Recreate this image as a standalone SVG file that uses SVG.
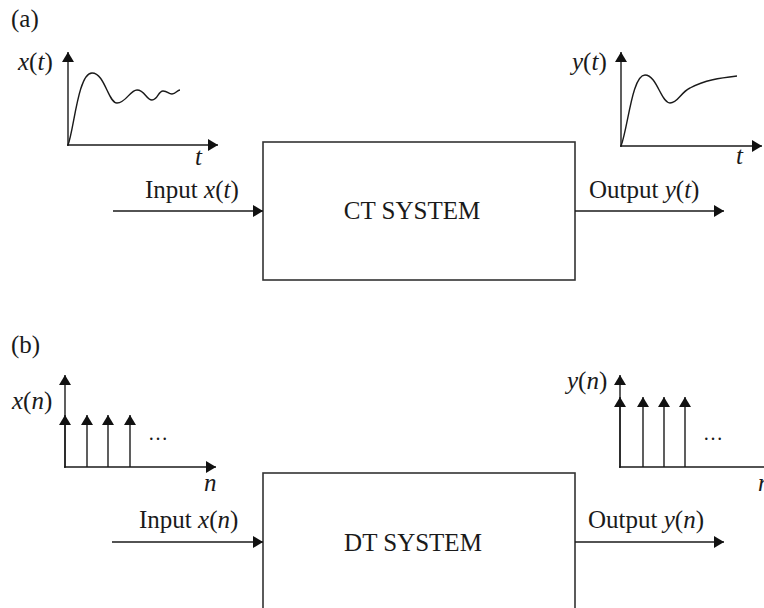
<svg xmlns="http://www.w3.org/2000/svg" width="764" height="608" viewBox="0 0 764 608">
<style>
text{font-family:"Liberation Serif","Times New Roman",serif;font-size:25px;fill:#1a1a1a}
.i{font-style:italic}
.ln{stroke:#1a1a1a;stroke-width:1.4;fill:none}
.box{stroke:#333;stroke-width:1.6;fill:#fff}
</style>
<defs>
<marker id="ah" viewBox="0 0 10 12" refX="10" refY="6" markerUnits="userSpaceOnUse" markerWidth="10" markerHeight="12" orient="auto">
<path d="M0,0 L10,6 L0,12 z" fill="#111"/>
</marker>
</defs>
<rect width="764" height="608" fill="#fff"/>

<text x="11" y="27">(a)</text>
<text x="11" y="353">(b)</text>

<g id="xt-plot">
<line class="ln" x1="68" y1="146" x2="68" y2="52" marker-end="url(#ah)"/>
<line class="ln" x1="67" y1="145" x2="218" y2="145" marker-end="url(#ah)"/>
<path class="ln" d="M68,145 C74,130 78,73 92,73 C105,73 108,103 117,103 C126,103 130,90 137,90 C145,90 146,100 152,100 C158,100 158,91 163,91 C168,91 168,94 172,94 C176,94 177,90 180,90"/>
<text x="18" y="70"><tspan class="i">x</tspan>(<tspan class="i">t</tspan>)</text>
<text x="195" y="165" class="i">t</text>
</g>

<g id="yt-plot">
<line class="ln" x1="621" y1="147" x2="621" y2="52" marker-end="url(#ah)"/>
<line class="ln" x1="620" y1="146" x2="762" y2="146" marker-end="url(#ah)"/>
<path class="ln" d="M621,146 C628,128 632,75 645,75 C657,75 661,103 670,103 C678,103 680,93 690,88 C705,80 720,78 737,76"/>
<text x="572" y="70"><tspan class="i">y</tspan>(<tspan class="i">t</tspan>)</text>
<text x="736" y="164" class="i">t</text>
</g>

<g id="ct-system">
<rect class="box" x="263" y="142" width="312" height="138"/>
<text x="412" y="219" text-anchor="middle">CT SYSTEM</text>
</g>

<g id="xn-plot">
<line class="ln" x1="65" y1="468" x2="65" y2="375" marker-end="url(#ah)"/>
<line class="ln" x1="65" y1="467" x2="65" y2="415" marker-end="url(#ah)"/>
<line class="ln" x1="87" y1="467" x2="87" y2="415" marker-end="url(#ah)"/>
<line class="ln" x1="108" y1="467" x2="108" y2="415" marker-end="url(#ah)"/>
<line class="ln" x1="130" y1="467" x2="130" y2="415" marker-end="url(#ah)"/>
<line class="ln" x1="64" y1="467" x2="216" y2="467" marker-end="url(#ah)"/>
<text x="12" y="409"><tspan class="i">x</tspan>(<tspan class="i">n</tspan>)</text>
<text x="148" y="440" style="font-size:20px">…</text>
<text x="204" y="491" class="i">n</text>
</g>

<g id="yn-plot">
<line class="ln" x1="620" y1="468" x2="620" y2="375" marker-end="url(#ah)"/>
<line class="ln" x1="620" y1="467" x2="620" y2="397" marker-end="url(#ah)"/>
<line class="ln" x1="643" y1="467" x2="643" y2="397" marker-end="url(#ah)"/>
<line class="ln" x1="664" y1="467" x2="664" y2="397" marker-end="url(#ah)"/>
<line class="ln" x1="685" y1="467" x2="685" y2="397" marker-end="url(#ah)"/>
<line class="ln" x1="619" y1="467" x2="775" y2="467" marker-end="url(#ah)"/>
<text x="567" y="389"><tspan class="i">y</tspan>(<tspan class="i">n</tspan>)</text>
<text x="703" y="440" style="font-size:20px">…</text>
<text x="758" y="491" class="i">n</text>
</g>

<g id="dt-system">
<rect class="box" x="263" y="473" width="312" height="150"/>
<text x="413" y="551" text-anchor="middle">DT SYSTEM</text>
</g>

<g id="connectors">
<line class="ln" x1="113" y1="211" x2="263" y2="211" marker-end="url(#ah)"/>
<line class="ln" x1="575" y1="211" x2="724" y2="211" marker-end="url(#ah)"/>
<line class="ln" x1="112" y1="542" x2="263" y2="542" marker-end="url(#ah)"/>
<line class="ln" x1="575" y1="542" x2="724" y2="542" marker-end="url(#ah)"/>
<text x="145" y="198">Input <tspan class="i">x</tspan>(<tspan class="i">t</tspan>)</text>
<text x="589" y="198">Output <tspan class="i">y</tspan>(<tspan class="i">t</tspan>)</text>
<text x="139" y="528">Input <tspan class="i">x</tspan>(<tspan class="i">n</tspan>)</text>
<text x="588" y="528">Output <tspan class="i">y</tspan>(<tspan class="i">n</tspan>)</text>
</g>
</svg>
